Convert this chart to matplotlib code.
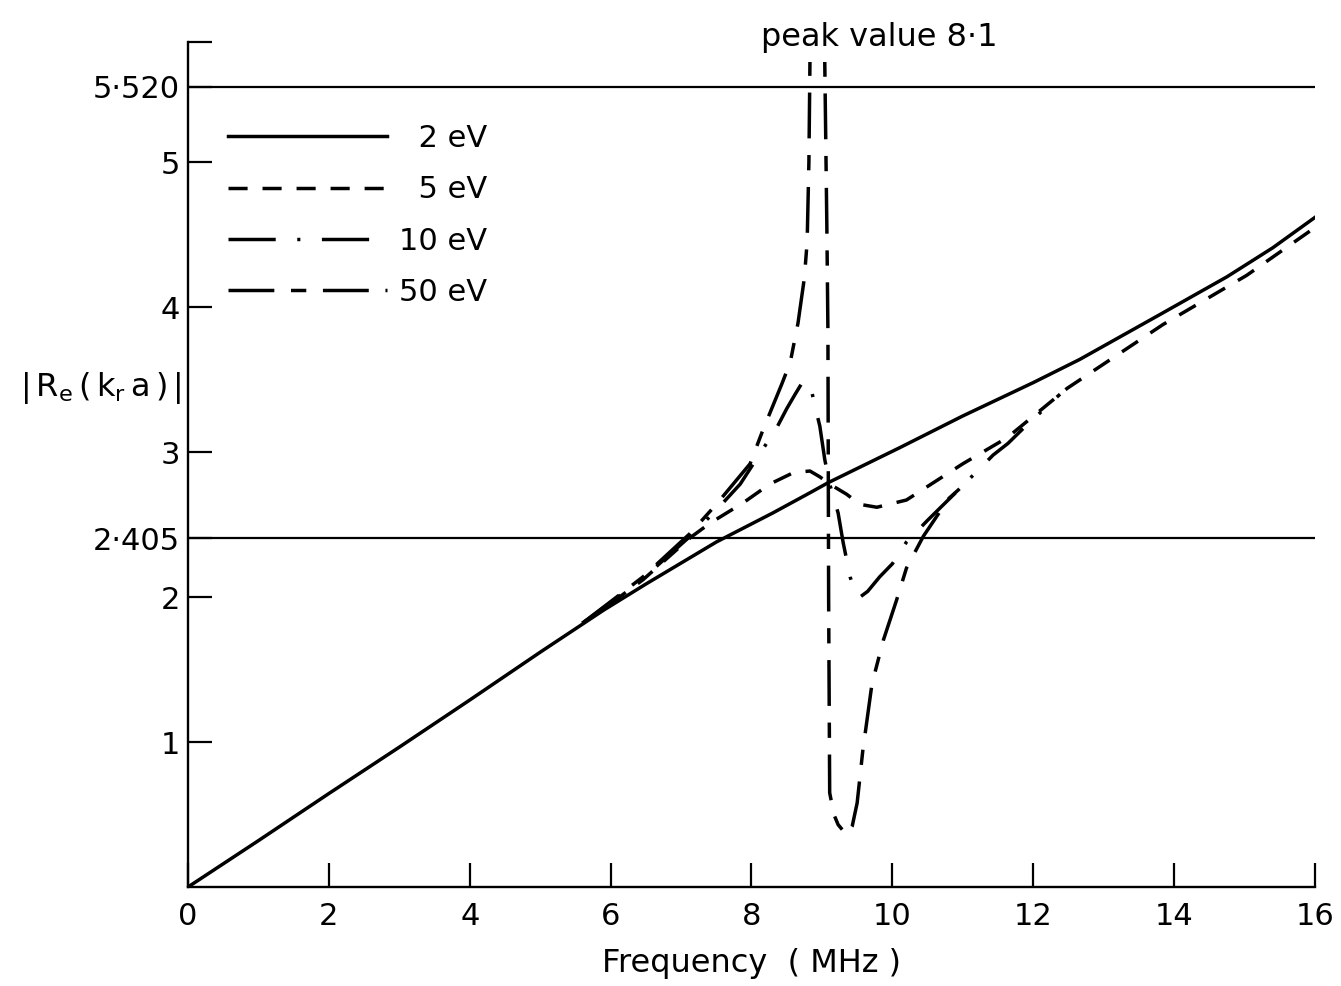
import numpy as np
import matplotlib.pyplot as plt
from matplotlib.patches import Rectangle

plt.rcParams['font.family'] = ['DejaVu Sans']
plt.rcParams['mathtext.fontset'] = 'dejavusans'

# dados: frequencia (MHz) e |Re(kr a)|
freq_2ev = [0, 1, 2, 3, 4, 5, 5.9, 6.5, 7.5, 8.3, 8.83, 9.09, 10.1, 11.0, 12.0, 12.66, 13.8, 14.75, 15.4, 16.0]
val_2ev = [0, 0.32, 0.645, 0.965, 1.29, 1.62, 1.91, 2.09, 2.38, 2.58, 2.72, 2.79, 3.03, 3.25, 3.48, 3.64, 3.95, 4.21, 4.41, 4.62]

freq_5ev = [5.6, 5.9, 6.46, 7.13, 7.41, 7.88, 8.26, 8.6, 8.83, 8.97, 9.11, 9.35, 9.54, 9.78, 10.2, 11.0, 11.63, 12.48, 13.84, 15.03, 16.0]
val_5ev = [1.82, 1.92, 2.12, 2.41, 2.51, 2.65, 2.78, 2.86, 2.87, 2.83, 2.78, 2.71, 2.64, 2.62, 2.67, 2.92, 3.10, 3.44, 3.88, 4.22, 4.55]

freq_10ev = [5.6, 6.46, 7.13, 7.5, 7.84, 8.12, 8.36, 8.5, 8.62, 8.72, 8.79, 8.85, 8.9, 8.97, 9.04, 9.11, 9.23,
             9.3, 9.4, 9.47, 9.54, 9.65, 9.82, 10.0, 10.2, 10.5, 10.75, 10.96, 11.43, 11.64, 11.85, 12.38]
val_10ev = [1.82, 2.13, 2.42, 2.60, 2.78, 2.99, 3.17, 3.30, 3.40, 3.48, 3.49, 3.43, 3.32, 3.18, 2.95, 2.78, 2.58,
            2.38, 2.14, 2.03, 2.00, 2.04, 2.14, 2.23, 2.38, 2.53, 2.65, 2.75, 2.98, 3.06, 3.16, 3.40]

freq_50ev = [5.6, 6.46, 7.13, 7.5, 7.98, 8.16, 8.43, 8.55, 8.66, 8.75, 8.79, 8.815, 8.83, 8.95, 9.04, 9.07, 9.085,
             9.095, 9.11, 9.17, 9.23, 9.35, 9.43, 9.5, 9.58, 9.71, 9.87, 10.06, 10.2, 10.44, 10.62, 10.8, 10.96]
val_50ev = [1.82, 2.14, 2.44, 2.64, 2.92, 3.15, 3.47, 3.62, 3.89, 4.2, 4.45, 5.0, 5.7, 8.1, 5.7, 4.55, 3.84,
            2.0, 0.65, 0.5, 0.43, 0.36, 0.42, 0.58, 0.94, 1.40, 1.70, 1.98, 2.2, 2.42, 2.55, 2.68, 2.75]

labels = ['  2 eV', '  5 eV', '10 eV', '50 eV']
ref_levels = [2.405, 5.520]  # zeros de J0 e J1
ref_labels = ['2·405', '5·520']
peak_text = 'peak value 8·1'

fig = plt.figure(figsize=(13.41, 9.86), dpi=100)
ax = fig.add_axes([0.1402, 0.1004, 0.8404, 0.857])

lw = 2.5
ax.plot(freq_2ev, val_2ev, color='black', lw=lw, label=labels[0])
ax.plot(freq_5ev, val_5ev, color='black', lw=lw, ls=(0, (5.5, 4.3)), label=labels[1])
ax.plot(freq_10ev, val_10ev, color='black', lw=lw, ls=(0, (13.6, 6.2, 0.9, 6.2)), label=labels[2])
line50, = ax.plot(freq_50ev, val_50ev, color='black', lw=lw, ls=(0, (13.2, 4.8, 4.4, 4.8)), label=labels[3])
# o pico (8.1) sai do grafico, corta a curva logo abaixo do texto
line50.set_clip_path(Rectangle((0, -1), 16, 6.69, transform=ax.transData))

for level in ref_levels:
    ax.axhline(level, color='black', lw=1.6)

ax.set_xlim(0, 16)
ax.set_ylim(0, 5.83)

ax.spines['top'].set_visible(False)
ax.spines['right'].set_visible(False)
ax.spines['left'].set_linewidth(1.7)
ax.spines['bottom'].set_linewidth(1.7)

ax.set_xticks(np.arange(0, 17, 2))
ax.set_xticklabels([str(v) for v in range(0, 17, 2)])
yt = [1, 2, ref_levels[0], 3, 4, 5, ref_levels[1], 5.83]
ax.set_yticks(yt)
ax.set_yticklabels(['1', '2', ref_labels[0], '3', '4', '5', ref_labels[1], ''])
ax.tick_params(direction='in', length=17, width=1.6, labelsize=22)
ax.tick_params(axis='x', pad=11)
ax.tick_params(axis='y', pad=6)

ax.set_xlabel('Frequency  ( MHz )', fontsize=23, labelpad=12)
ax.set_ylabel(r'$|\,\mathrm{R_e\,(\,k_r\,a\,)}\,|$', fontsize=23, rotation=0, ha='right', va='center')
ax.yaxis.set_label_coords(-0.006, 0.59)

ax.text(9.82, 5.86, peak_text, fontsize=23, ha='center', va='center', clip_on=False)

ax.legend(loc='upper left', bbox_to_anchor=(0.0355, 0.903), frameon=False, fontsize=22,
          handlelength=5.2, handletextpad=0.4, labelspacing=0.73, borderpad=0, borderaxespad=0)

fig.savefig('out.png', dpi=100, facecolor='white')
